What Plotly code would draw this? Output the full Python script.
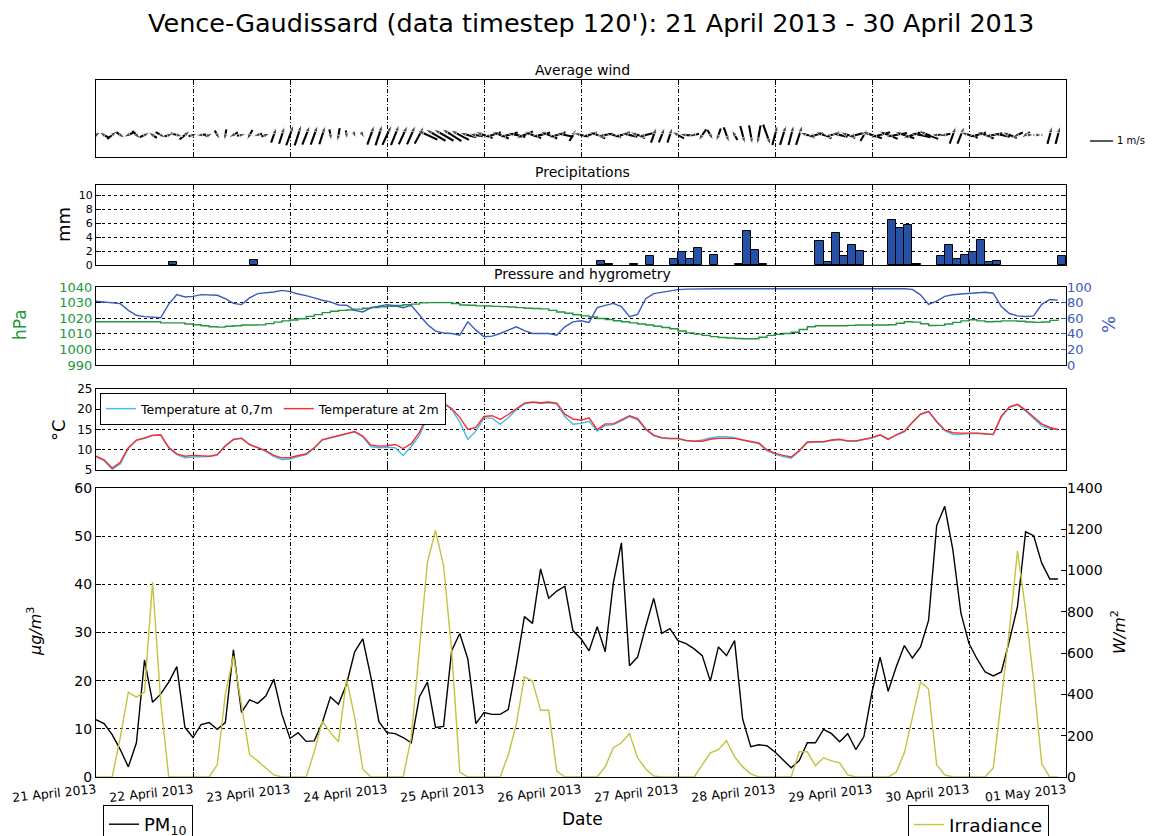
import math
import pandas as pd
import plotly.graph_objects as go

W, H = 1157, 836
OFF = 8  # page body margin in the browser
def px(x): return (x - OFF) / W
def py(y): return 1 - (y - OFF) / H

# ---------------- data ----------------
start = pd.Timestamp("2013-04-21 00:00")
end = pd.Timestamp("2013-05-01 00:00")
times = pd.date_range(start, periods=120, freq="2h")
day_ticks = pd.date_range(start, end, freq="1D")
day_labels = ["21 April 2013", "22 April 2013", "23 April 2013", "24 April 2013",
              "25 April 2013", "26 April 2013", "27 April 2013", "28 April 2013",
              "29 April 2013", "30 April 2013", "01 May 2013"]

wind_angle = [35, 150, 40, -35, 205, -45, 25, 145, -30, 20, -15, 40,
              15, 185, 20, -60, -100, 210, 10, -120, 195, 20, 70, 72,
              70, 72, 68, 70, 72, -80, -100, -80, -70, -60, 70, 72,
              65, 68, 65, 66, 62, 155, 150, 150, 148, 152, 165, 170,
              160, 198, 158, 195, 168, 202, 160, 195, 158, 198, 168, 60,
              165, 198, 158, 190, 162, 198, 168, 158, 195, 70, 68, 72,
              150, 175, 195, -125, -60, -110, -70, 120, -75, -80, -100, -70,
              75, 73, 75, 72, 162, 195, 158, 198, 168, 158, 195, 60,
              162, 195, 158, 190, 162, 198, 168, 158, 180, 192, 70, 68,
              162, 195, 158, 190, 168, 158, 205, 215, 0, 0, 75, 75]
wind_speed = [0.5, 0.5, 0.55, 0.5, 0.45, 0.5, 0.5, 0.45, 0.5, 0.45, 0.55, 0.6,
              0.4, 0.45, 0.35, 0.45, 0.5, 0.45, 0.4, 0.5, 0.4, 0.4, 0.7, 0.8,
              0.95, 0.95, 0.9, 0.9, 0.85, 0.5, 0.6, 0.4, 0.3, 0.3, 0.9, 0.95,
              0.95, 0.95, 0.9, 0.9, 0.85, 0.95, 1.0, 1.0, 1.0, 0.9, 0.75, 0.6,
              0.8, 0.8, 0.8, 0.85, 0.8, 0.8, 0.8, 0.85, 0.8, 0.8, 0.75, 0.6,
              0.7, 0.7, 0.75, 0.7, 0.7, 0.75, 0.7, 0.7, 0.7, 0.7, 0.7, 0.7,
              0.6, 0.6, 0.45, 0.6, 0.5, 0.6, 0.7, 0.5, 0.8, 0.85, 0.85, 0.95,
              0.9, 0.9, 0.9, 0.9, 0.7, 0.7, 0.75, 0.7, 0.7, 0.7, 0.7, 0.6,
              0.9, 0.9, 0.9, 0.95, 0.9, 0.9, 0.9, 0.9, 0.5, 0.5, 0.8, 0.8,
              0.8, 0.8, 0.8, 0.8, 0.75, 0.7, 0.5, 0.45, 0.05, 0.05, 0.8, 0.8]

precip_hours = [18, 38, 124, 126, 132, 136, 142, 144, 146, 148, 152, 158, 160, 162, 164,
                178, 180, 182, 184, 186, 188, 196, 198, 200, 202, 208, 210, 212, 214,
                216, 218, 220, 222, 238]
precip_mm = [0.5, 0.7, 0.6, 0.15, 0.2, 1.25, 0.8, 1.8, 0.8, 2.45, 1.5, 0.15, 4.95, 2.2, 0.15,
             3.4, 0.4, 4.6, 1.3, 2.9, 2.0, 6.4, 5.3, 5.8, 0.15, 1.25, 2.9, 0.8, 1.5,
             1.9, 3.6, 0.4, 0.6, 1.25]

pressure = [1017.7, 1017.7, 1017.7, 1017.7, 1017.7, 1017.7, 1017.7, 1017.7, 1017.0, 1017.0, 1017.0, 1016.3,
            1015.8, 1015.2, 1014.5, 1014.3, 1014.8, 1015.2, 1015.6, 1015.6, 1015.7, 1016.5, 1017.5, 1018.3,
            1018.8, 1019.6, 1021.2, 1022.3, 1023.6, 1024.5, 1025.0, 1025.3, 1025.8, 1026.4, 1026.9, 1027.3,
            1027.7, 1028.1, 1028.6, 1029.0, 1029.8, 1030.0, 1030.0, 1030.0, 1029.4, 1028.5, 1028.3, 1027.9,
            1027.8, 1027.6, 1027.4, 1027.2, 1026.8, 1026.4, 1026.2, 1026.0, 1025.0, 1024.0, 1023.2, 1022.2,
            1021.5, 1020.8, 1019.8, 1019.2, 1018.4, 1017.7, 1017.0, 1016.3, 1015.6, 1014.8, 1014.0, 1013.2,
            1011.8, 1010.6, 1009.8, 1009.0, 1008.2, 1007.6, 1007.3, 1007.0, 1006.8, 1006.8, 1007.8, 1009.0,
            1009.6, 1010.2, 1011.0, 1012.8, 1014.5, 1015.2, 1015.2, 1015.2, 1015.2, 1015.4, 1015.6, 1015.6,
            1015.6, 1015.6, 1015.8, 1016.8, 1017.7, 1017.5, 1016.4, 1015.3, 1015.4, 1016.3, 1017.3, 1018.3,
            1019.0, 1018.3, 1017.7, 1017.9, 1018.3, 1018.3, 1018.0, 1017.6, 1017.3, 1017.6, 1018.6, 1019.4]

humidity = [81.7, 81.0, 80.0, 78.7, 70.0, 63.8, 62.0, 61.7, 60.5, 78.0, 90.2, 87.2,
            88.0, 90.2, 89.8, 89.4, 85.0, 79.0, 77.4, 86.0, 91.5, 92.5, 93.6, 95.7,
            94.0, 91.0, 89.0, 86.0, 83.0, 81.0, 77.0, 76.6, 70.0, 68.0, 73.2, 75.5,
            77.4, 76.0, 73.5, 76.6, 63.8, 52.0, 43.4, 41.0, 40.4, 38.3, 55.3, 44.7,
            36.2, 37.0, 40.4, 45.0, 48.9, 44.0, 40.4, 40.4, 40.4, 38.3, 48.9, 55.3,
            56.7, 54.6, 73.5, 76.5, 79.0, 74.8, 62.0, 65.0, 85.0, 91.6, 93.5, 94.5,
            96.6, 97.3, 97.6, 97.8, 97.8, 97.8, 97.8, 97.8, 97.8, 98.3, 98.3, 97.8,
            97.8, 97.8, 97.8, 97.8, 98.3, 98.3, 98.3, 98.3, 97.8, 97.8, 97.8, 97.8,
            97.8, 97.5, 98.3, 97.8, 97.8, 97.0, 90.0, 77.7, 82.0, 88.0, 90.0, 91.0,
            91.6, 92.0, 93.3, 92.0, 75.0, 66.0, 63.0, 62.2, 63.0, 77.7, 84.0, 83.2]

temp_07 = [8.3, 7.3, 5.2, 6.5, 10.3, 12.3, 12.8, 13.5, 13.6, 10.4, 8.8, 8.0,
           8.2, 8.3, 8.3, 8.7, 10.9, 12.6, 12.9, 11.2, 10.5, 9.6, 8.3, 7.6,
           7.7, 8.3, 8.8, 10.4, 12.4, 12.9, 13.4, 13.9, 14.4, 13.2, 10.8, 10.5,
           10.6, 10.5, 8.6, 10.8, 13.5, 18.0, 20.8, 21.3, 20.0, 16.8, 12.6, 14.6,
           17.8, 17.8, 16.3, 17.9, 19.9, 21.3, 21.7, 21.4, 21.6, 21.3, 18.2, 16.3,
           16.5, 17.0, 14.6, 16.0, 16.2, 17.1, 18.2, 17.4, 15.0, 13.4, 12.9, 12.7,
           12.7, 12.2, 12.1, 12.4, 12.9, 13.2, 13.2, 13.0, 12.4, 11.9, 11.5, 9.8,
           8.9, 8.3, 7.9, 9.6, 11.8, 11.9, 11.9, 12.3, 12.5, 12.1, 12.1, 12.5,
           12.9, 13.6, 12.5, 13.6, 14.4, 16.7, 18.7, 19.4, 16.8, 14.7, 13.8, 13.8,
           14.0, 14.0, 14.0, 13.7, 18.1, 20.5, 21.1, 19.6, 17.8, 15.9, 15.3, 14.9]

temp_2 = [8.4, 7.5, 5.5, 6.9, 10.5, 12.4, 12.9, 13.6, 13.7, 10.6, 9.0, 8.4,
          8.6, 8.5, 8.4, 8.8, 11.0, 12.5, 12.8, 11.3, 10.6, 9.8, 8.6, 8.0,
          8.1, 8.6, 9.0, 10.5, 12.5, 13.0, 13.5, 14.0, 14.5, 13.4, 11.2, 10.9,
          11.0, 11.3, 10.3, 11.5, 14.3, 18.3, 21.0, 21.5, 20.2, 18.0, 15.0, 15.5,
          18.2, 18.4, 17.5, 18.7, 20.2, 21.5, 21.8, 21.6, 21.8, 21.5, 18.8, 17.6,
          17.3, 17.9, 15.0, 16.4, 16.4, 17.3, 18.4, 17.7, 15.2, 13.6, 13.0, 12.8,
          12.8, 12.3, 12.1, 12.1, 12.6, 12.8, 12.8, 12.8, 12.4, 12.0, 11.7, 10.0,
          9.1, 8.6, 8.2, 9.8, 11.9, 12.0, 12.0, 12.4, 12.6, 12.2, 12.2, 12.6,
          13.0, 13.7, 12.6, 13.7, 14.6, 16.8, 18.8, 19.5, 17.0, 14.9, 14.2, 14.1,
          14.1, 14.1, 13.9, 13.8, 18.3, 20.6, 21.2, 19.8, 18.1, 16.4, 15.5, 15.0]

pm10 = [11.9, 11.1, 8.8, 5.7, 2.1, 7.1, 24.3, 15.5, 17.2, 19.7, 22.9, 10.3,
        8.2, 10.9, 11.3, 9.9, 11.3, 26.4, 13.4, 16.0, 15.3, 16.8, 20.3, 13.0,
        8.0, 9.2, 7.4, 7.5, 11.3, 16.6, 15.1, 19.3, 26.0, 28.7, 20.8, 11.5,
        9.2, 9.0, 8.2, 7.1, 16.6, 19.7, 10.3, 10.5, 26.2, 29.8, 24.5, 11.1,
        13.4, 13.0, 13.0, 14.0, 23.1, 33.3, 31.9, 43.2, 37.1, 38.6, 39.6, 30.4,
        28.7, 26.2, 31.2, 26.0, 40.3, 48.6, 23.1, 24.9, 31.2, 37.1, 29.8, 30.8,
        28.3, 27.7, 26.6, 25.2, 19.9, 27.0, 25.2, 28.3, 12.0, 6.3, 6.7, 6.5,
        5.2, 3.6, 1.9, 3.4, 7.1, 7.1, 9.9, 9.0, 7.3, 9.0, 5.7, 8.4,
        17.6, 24.9, 17.8, 22.9, 27.3, 24.7, 27.0, 32.5, 52.2, 56.2, 47.2, 34.0,
        27.7, 24.5, 21.8, 21.0, 21.8, 28.3, 35.4, 50.9, 50.1, 44.4, 41.1, 41.1]

irradiance = [0, 0, 0, 191, 411, 387, 411, 945, 367, 0, 0, 0,
              0, 0, 0, 59, 401, 587, 352, 108, 78, 44, 10, 0,
              0, 0, 0, 122, 269, 215, 171, 474, 289, 39, 0, 0,
              0, 0, 0, 191, 600, 1040, 1194, 1023, 612, 24, 0, 0,
              0, 0, 0, 108, 255, 485, 465, 323, 323, 29, 0, 0,
              0, 0, 0, 50, 142, 166, 210, 93, 39, 5, 0, 0,
              0, 0, 0, 59, 117, 132, 176, 98, 49, 15, 0, 0,
              0, 0, 0, 122, 122, 54, 93, 78, 69, 10, 0, 0,
              0, 0, 0, 24, 117, 289, 460, 426, 59, 10, 0, 0,
              0, 0, 0, 44, 392, 710, 1096, 808, 465, 64, 0, 0]

# ---------------- styles ----------------
FONT = "DejaVu Sans"
GREEN = "#22963c"
BLUE = "#3a5bbf"
BAR = "#2552a6"
T07C = "#3cbcf0"
T2C = "#ff2a2a"
IRR = "#c4c23e"
VDASH = "4px,2px,1px,2px"

KEY_PX = 23.0                    # pixels for 1 m/s
PX_PER_HOUR = (1066 - 96) / 240.0
HOURS_PER_MS = KEY_PX / PX_PER_HOUR

fig = go.Figure()

# ---- wind (quiver-like segments) ----
wx, wy, wsize = [], [], []
for t, a, s in zip(times, wind_angle, wind_speed):
    dx = s * math.cos(math.radians(a)) * HOURS_PER_MS
    dy = s * math.sin(math.radians(a))
    wx += [t - pd.Timedelta(hours=dx / 2), t + pd.Timedelta(hours=dx / 2), None]
    wy += [-dy / 2, dy / 2, None]
    wsize += [0, 7, 0]
fig.add_trace(go.Scatter(x=wx, y=wy, mode="lines+markers", xaxis="x", yaxis="y",
                         line=dict(color="black", width=2.1),
                         marker=dict(symbol="arrow", size=wsize, color="black", angleref="previous"),
                         showlegend=False, hoverinfo="skip"))

# ---- precipitation ----
fig.add_trace(go.Bar(x=[start + pd.Timedelta(hours=h) for h in precip_hours], y=precip_mm,
                     xaxis="x2", yaxis="y2", offset=0, width=2 * 3600 * 1000,
                     marker=dict(color=BAR, line=dict(color="black", width=1)),
                     showlegend=False))

# ---- pressure & humidity ----
fig.add_trace(go.Scatter(x=times, y=pressure, xaxis="x3", yaxis="y3", mode="lines",
                         line=dict(color=GREEN, width=1.4, shape="hv"), showlegend=False))
fig.add_trace(go.Scatter(x=times, y=humidity, xaxis="x3", yaxis="y6", mode="lines",
                         line=dict(color=BLUE, width=1.4), showlegend=False))

# ---- temperatures ----
fig.add_trace(go.Scatter(x=times, y=temp_07, xaxis="x4", yaxis="y4", mode="lines",
                         name="Temperature at 0,7m", line=dict(color=T07C, width=1.4), legend="legend"))
fig.add_trace(go.Scatter(x=times, y=temp_2, xaxis="x4", yaxis="y4", mode="lines",
                         name="Temperature at 2m", line=dict(color=T2C, width=1.4), legend="legend"))

# ---- PM10 & irradiance ----
fig.add_trace(go.Scatter(x=times, y=irradiance, xaxis="x5", yaxis="y7", mode="lines",
                         name="Irradiance", line=dict(color=IRR, width=1.4), legend="legend3"))
fig.add_trace(go.Scatter(x=times, y=pm10, xaxis="x5", yaxis="y5", mode="lines",
                         name="PM<sub>10</sub>", line=dict(color="black", width=1.4), legend="legend2"))

xdom = [px(96), px(1066)]

def xax(anchor, labels=False):
    d = dict(domain=xdom, anchor=anchor, type="date", range=[start, end],
             tickmode="array", tickvals=list(day_ticks),
             ticktext=day_labels, showticklabels=labels,
             showgrid=True, gridcolor="black", griddash=VDASH, gridwidth=1,
             showline=True, linecolor="black", linewidth=1.3, mirror="ticks",
             ticks="inside", ticklen=5, tickcolor="black", zeroline=False)
    if labels:
        d.update(tickangle=-6, tickfont=dict(family=FONT, size=12.5, color="black"))
    return d

def yax(anchor, dom, rng, dtick, size=11, color="black", grid=True, mirror="ticks"):
    return dict(domain=[py(dom[1]), py(dom[0])], anchor=anchor, range=rng, dtick=dtick,
                tick0=rng[0], showgrid=grid, gridcolor="black", griddash="dot", gridwidth=1,
                showline=True, linecolor="black", linewidth=1.3, mirror=mirror,
                ticks="inside", ticklen=5, tickcolor="black", zeroline=False,
                tickfont=dict(family=FONT, size=size, color=color))

layout = dict(
    width=W, height=H, margin=dict(l=0, r=0, t=0, b=0, autoexpand=False),
    paper_bgcolor="white", plot_bgcolor="white",
    font=dict(family=FONT, color="black"),
    bargap=0,
    xaxis=xax("y"), xaxis2=xax("y2"), xaxis3=xax("y3"), xaxis4=xax("y4"), xaxis5=xax("y5", True),
    yaxis=dict(domain=[py(157), py(80)], anchor="x", range=[-0.957, 2.39],
               showticklabels=False, showgrid=False, ticks="", showline=True,
               linecolor="black", linewidth=1.3, mirror=True, zeroline=False),
    yaxis2=yax("x2", (185, 265), [0, 11.5], 2, size=11),
    yaxis3=yax("x3", (287, 365), [990, 1040], 10, size=13, color=GREEN, mirror=True),
    yaxis4=yax("x4", (389, 470), [5, 25], 5, size=12),
    yaxis5=yax("x5", (488, 777), [0, 60], 10, size=14, mirror=True),
    yaxis6=dict(overlaying="y3", anchor="x3", side="right", range=[0, 100], dtick=20,
                showgrid=False, ticks="inside", ticklen=5, tickcolor=BLUE, zeroline=False,
                showline=False, tickfont=dict(family=FONT, size=13, color=BLUE)),
    yaxis7=dict(overlaying="y5", anchor="x5", side="right", range=[0, 1400], dtick=200,
                showgrid=False, ticks="inside", ticklen=5, tickcolor="black", zeroline=False,
                showline=False, tickfont=dict(family=FONT, size=14, color="black")),
    legend=dict(x=px(100), y=py(393), xanchor="left", yanchor="top", orientation="h",
                bgcolor="white", bordercolor="black", borderwidth=1,
                font=dict(family=FONT, size=12.5), itemwidth=30, tracegroupgap=0),
    legend2=dict(x=px(103), y=py(805), xanchor="left", yanchor="top",
                 bgcolor="white", bordercolor="black", borderwidth=1,
                 font=dict(family=FONT, size=18), itemwidth=30),
    legend3=dict(x=px(908), y=py(805), xanchor="left", yanchor="top",
                 bgcolor="white", bordercolor="black", borderwidth=1,
                 font=dict(family=FONT, size=18.5), itemwidth=30),
    showlegend=True,
)
fig.update_layout(**layout)

def ann(text, x, y, size, color="black", angle=0, xanchor="center"):
    fig.add_annotation(text=text, x=px(x), y=py(y), xref="paper", yref="paper",
                       showarrow=False, textangle=angle, xanchor=xanchor, yanchor="middle",
                       font=dict(family=FONT, size=size, color=color))

ann("Vence-Gaudissard (data timestep 120'): 21 April 2013 - 30 April 2013", 591, 23, 25.5)
ann("Average wind", 582, 70, 14)
ann("Precipitations", 582, 172, 14)
ann("Pressure and hygrometry", 582, 274, 14)
ann("mm", 63, 225, 18, angle=-90)
ann("hPa", 20, 325, 17, color=GREEN, angle=-90)
ann("%", 1108, 325, 18, color=BLUE, angle=-90)
ann("°C", 58, 430, 18, angle=-90)
ann("<i>µg/m</i><sup>3</sup>", 34, 632, 16, angle=-90)
ann("<i>W/m</i><sup>2</sup>", 1118, 632, 16, angle=-90)
ann("Date", 582, 819, 17)
ann("1 m/s", 1115, 141, 10, xanchor="left")

fig.add_shape(type="line", xref="paper", yref="paper",
              x0=px(1090), x1=px(1090 + KEY_PX), y0=py(141), y1=py(141),
              line=dict(color="black", width=1.3))

fig.write_html("out.html")
